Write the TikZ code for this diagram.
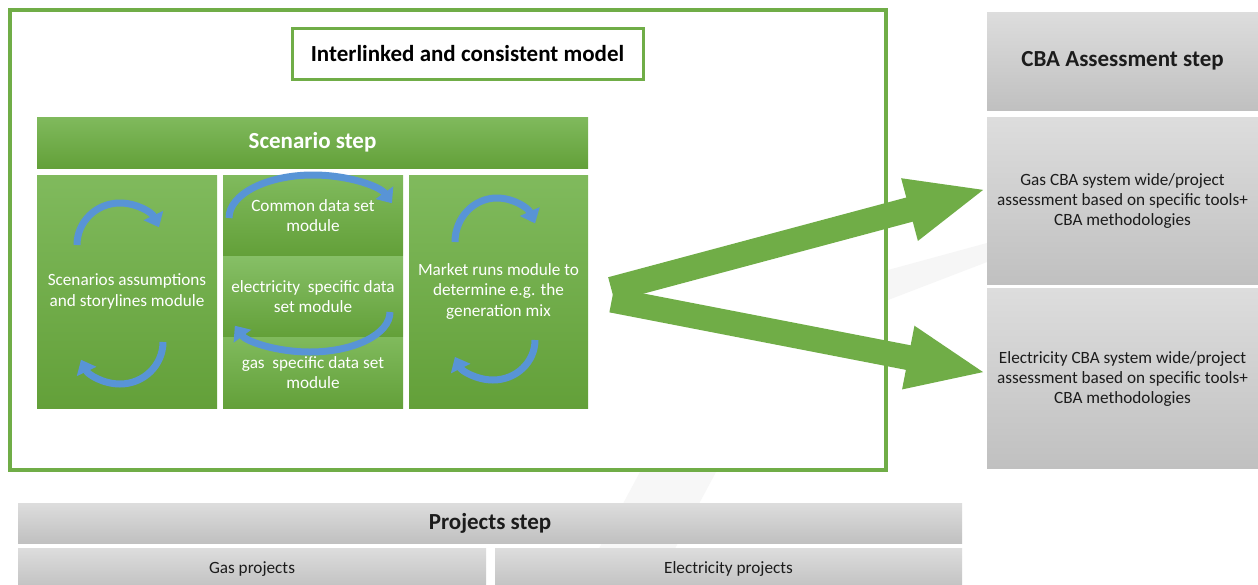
\documentclass[tikz,border=0pt]{standalone}
\usepackage{fontspec}
\setmainfont{Carlito}
\usetikzlibrary{positioning}
\usetikzlibrary{arrows.meta}

\begin{document}
\begin{tikzpicture}[x=1pt,y=1pt]
    \tikzset{every node/.style={align=center, inner sep=0pt}}

    % Farben
    \definecolor{Rahmen_green}{RGB}{112,173,71}
    \definecolor{Modul_top}{RGB}{128,186,93}
    \definecolor{Modul_bottom}{RGB}{99,160,57}
    \definecolor{Modul_light}{RGB}{134,191,102}
    \definecolor{Pfeil_blue}{RGB}{88,148,214}
    \definecolor{Grau_top}{RGB}{221,221,221}
    \definecolor{Grau_bottom}{RGB}{192,192,192}
    \definecolor{Text_dark}{RGB}{28,28,28}

    \tikzset{
        modul/.style={rectangle, top color=Modul_top, bottom color=Modul_bottom, text=white, font=\fontsize{17.2}{20.5}\selectfont},
        grau/.style={rectangle, top color=Grau_top, bottom color=Grau_bottom, text=Text_dark, font=\fontsize{17.2}{20.2}\selectfont},
        kopf/.style={font=\bfseries\fontsize{23}{26}\selectfont},
        kreis/.style={draw=Pfeil_blue, line width=7pt, -{Triangle[width=21pt,length=13pt]}},
        gross/.style={draw=Rahmen_green, line width=25pt, -{Triangle[width=58pt,length=80pt]}}
    }

    \useasboundingbox[fill=white] (0,0) rectangle (1258,-584);

    % Hintergrund (blass)
    \fill[gray!6] (640,-472) -- (716,-472) -- (656,-584) -- (580,-584) -- cycle;
    \fill[gray!7] (888,-270) -- (987,-243) -- (987,-262) -- (888,-300) -- cycle;

    % Rahmen und Titel
    \node[draw=Rahmen_green, line width=4pt, minimum width=876pt, minimum height=460pt] (modell) at (448,-240) {};
    \node[kopf, draw=Rahmen_green, line width=3pt, fill=white, minimum width=351pt, minimum height=51pt] (titel) at (467.5,-53.5) {Interlinked and consistent model};

    % Szenario-Schritt
    \node[modul, kopf, minimum width=551pt, minimum height=51pt] (szenario) at (312.5,-142.5) {Scenario step};
    \node[modul, minimum width=180pt, minimum height=233pt] (annahmen) at (127,-291.5) {Scenarios assumptions\\and storylines module};
    \node[modul, minimum width=180pt, minimum height=80pt] (common) at (313,-215.5) {Common data set\\module};
    \node[modul, top color=Modul_light, minimum width=180pt, minimum height=80pt] (strom) at (313,-296.5) {electricity\ \ specific data\\set module};
    \node[modul, minimum width=180pt, minimum height=71pt] (gas) at (313,-372.5) {gas\ \ specific data set\\module};
    \node[modul, minimum width=179pt, minimum height=233pt] (markt) at (498.5,-291.5) {Market runs module to\\determine e.g. the\\generation mix};

    % Kreislauf-Pfeile
    \draw[kreis] (77,-245) arc[start angle=180, end angle=25, x radius=43pt, y radius=42pt];
    \draw[kreis] (163,-342) arc[start angle=0, end angle=-155, x radius=43pt, y radius=42pt];
    \draw[kreis] (229,-218) arc[start angle=180, end angle=20, x radius=84pt, y radius=43pt];
    \draw[kreis] (390,-312) arc[start angle=0, end angle=-160, x radius=80pt, y radius=40pt];
    \draw[kreis] (455,-242) arc[start angle=180, end angle=25, x radius=42pt, y radius=44pt];
    \draw[kreis] (535,-340) arc[start angle=0, end angle=-155, x radius=42pt, y radius=40pt];

    % CBA-Schritt
    \node[grau, kopf, minimum width=271pt, minimum height=98pt] (cba) at (1122.5,-61) {CBA Assessment step};
    \node[grau, minimum width=271pt, minimum height=167pt, below=7pt of cba] (gascba) {Gas CBA system wide/project\\assessment based on specific tools+\\CBA methodologies};
    \node[grau, minimum width=271pt, minimum height=180pt, below=4pt of gascba] (stromcba) {Electricity CBA system wide/project\\assessment based on specific tools+\\CBA methodologies};

    % Projekt-Schritt
    \node[grau, kopf, minimum width=944pt, minimum height=40pt] (projekte) at (490,-523) {Projects step};
    \node[grau, minimum width=468pt, minimum height=42pt] (gasprojekte) at (252,-569) {Gas projects};
    \node[grau, minimum width=467pt, minimum height=42pt] (stromprojekte) at (728.5,-569) {Electricity projects};

    % Verbindungen: Markt -> CBA
    \draw[gross, shorten <=24pt] ([yshift=-4pt]markt.east) -- ([yshift=12pt]gascba.west);
    \draw[gross, shorten <=24pt] ([yshift=-4pt]markt.east) -- ([yshift=6pt]stromcba.west);

\end{tikzpicture}
\end{document}
